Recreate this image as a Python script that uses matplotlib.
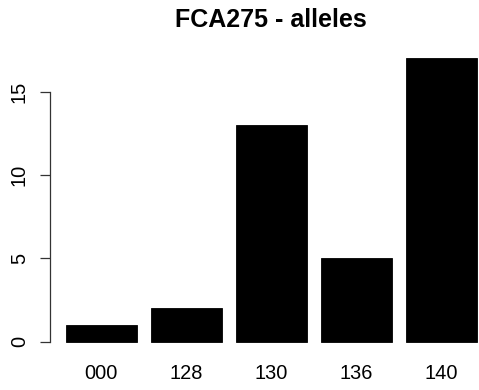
import matplotlib
matplotlib.use("Agg")
import matplotlib.pyplot as plt
import numpy as np

alleles = ["000", "128", "130", "136", "140"]
counts = [1, 2, 13, 5, 17]
y_ticks = [0, 5, 10, 15]

plt.rcParams["font.family"] = ["Liberation Sans", "DejaVu Sans"]

W, H, DPI = 479, 390, 100
fig = plt.figure(figsize=(W / DPI, H / DPI), dpi=DPI)

# plot region in pixels (barplot-style layout: width 1, space 0.2)
left_px, right_px = 49.6, 493.0
bottom_px, top_px = 353.0, 47.0
ax = fig.add_axes([left_px / W, (H - bottom_px) / H,
                   (right_px - left_px) / W, (bottom_px - top_px) / H])

width, space = 1.0, 0.2
lefts = space + np.arange(len(counts)) * (width + space)
centers = lefts + width / 2
ax.bar(centers, counts, width=width, color="black", edgecolor="black", linewidth=0.6)

x0, x1 = lefts[0], lefts[-1] + width
pad_x = 0.04 * (x1 - x0)
ax.set_xlim(x0 - pad_x, x1 + pad_x)
ymax = max(counts)
ax.set_ylim(-0.04 * ymax, ymax * 1.04)

for s in ["top", "right", "bottom"]:
    ax.spines[s].set_visible(False)
ax.spines["left"].set_bounds(y_ticks[0], y_ticks[-1])
ax.spines["left"].set_color("#333333")
ax.spines["left"].set_linewidth(0.9)

ax.set_yticks(y_ticks)
ax.set_yticklabels([str(t) for t in y_ticks], rotation=90, va="center")
ax.tick_params(axis="y", length=7, width=0.9, color="#333333", pad=8, labelsize=14.4)

ax.set_xticks(centers)
ax.set_xticklabels(alleles)
ax.tick_params(axis="x", length=0, pad=8, labelsize=14.4)

ax.set_title("FCA275 - alleles", fontsize=18, fontweight="bold", pad=14.4)

fig.savefig("out.png", dpi=DPI)
